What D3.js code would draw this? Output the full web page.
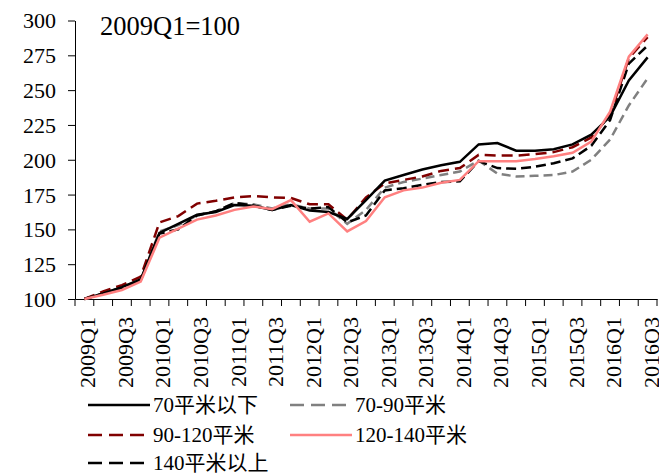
<!DOCTYPE html>
<html>
<head>
<meta charset="utf-8">
<script src="https://cdn.jsdelivr.net/npm/d3@7"></script>
<style>
  body { margin: 0; background: #fff; }
  svg { display: block; }
</style>
</head>
<body>
<div id="chart"></div>
<script>
// quarters 2009Q1 .. 2016Q3
const quarters = [];
for (let y = 2009; y <= 2016; y++) {
  for (let q = 1; q <= 4; q++) {
    if (y === 2016 && q === 4) break;
    quarters.push(y + 'Q' + q);
  }
}

const yTicks = [100, 125, 150, 175, 200, 225, 250, 275, 300];

const seriesNames = ['70平米以下', '70-90平米', '90-120平米', '120-140平米', '140平米以上'];

const below70 = [100, 104, 108.5, 114, 147.5, 154, 160.5, 162.5, 167.5, 167, 164, 167.5, 163.5, 162.5, 157.5, 171,
  185, 189, 193, 196, 198.5, 211, 212, 206.5, 206.5, 207.5, 211, 218, 231, 257, 273.5];
const s70to90 = [100, 104, 108.5, 114, 148.5, 153, 160, 163, 169, 168, 165, 168, 165, 165, 154, 164,
  180, 184, 186.5, 189, 191.5, 199.5, 190, 188, 188.5, 189, 191.5, 200, 214.5, 239, 258.5];
const s90to120 = [100, 105.5, 110, 116, 155, 159.5, 168.5, 170.5, 173, 174, 173, 172.5, 168, 168, 157, 173,
  183, 185.5, 188, 192, 194, 203.5, 203, 203, 204, 205.5, 209, 216, 232, 273, 288];
const s120to140 = [100, 103, 106.5, 112.5, 144, 150.5, 157, 160, 164, 166.5, 164.5, 171, 155.5, 161.5, 148.5, 156,
  173, 178, 180, 183.5, 185.5, 199, 199, 199, 200.5, 202.5, 205, 213, 234.5, 274, 290];
const above140 = [100, 104, 108, 113.5, 147, 150, 160, 163, 169, 167, 164, 167, 165, 166, 155, 160,
  178, 179.5, 182, 184, 184.5, 199, 194, 193.5, 195, 197.5, 201, 210, 228.5, 269, 282];

const seriesValues = [below70, s70to90, s90to120, s120to140, above140];
const colors = ['#000000', '#808080', '#800000', '#ff8080', '#000000'];
const dashes = [null, '9,5', '11,6', null, '10,5'];

const FONT = "'Liberation Serif', 'Times New Roman', Times, 'Noto Sans CJK SC', serif";

const width = 659, height = 475;
const margin = { top: 20.5, right: 2, bottom: 176, left: 75 };

const svg = d3.select('#chart').append('svg')
  .attr('width', width)
  .attr('height', height)
  .attr('font-family', FONT);

const x = d3.scaleBand()
  .domain(quarters)
  .range([margin.left, width - margin.right])
  .paddingInner(0).paddingOuter(0);

const y = d3.scaleLinear()
  .domain([100, 300])
  .range([height - margin.bottom, margin.top]);

// y axis
const yAxis = d3.axisLeft(y).tickValues(yTicks).tickSize(7).tickSizeOuter(0).tickPadding(12);
const gy = svg.append('g').attr('transform', `translate(${margin.left},0)`).call(yAxis)
  .attr('font-family', FONT);
gy.selectAll('text').style('font-size', '22px').attr('dy', '0.34em').attr('fill', '#000');
gy.selectAll('line, path').attr('stroke', '#000');

// x axis: labels on every other quarter, ticks between quarters
const labelQuarters = quarters.filter((d, i) => i % 2 === 0);
const xAxis = d3.axisBottom(x).tickValues(labelQuarters).tickSize(0).tickSizeOuter(0);
const gx = svg.append('g').attr('transform', `translate(0,${y(100)})`).call(xAxis)
  .attr('font-family', FONT);
gx.select('.domain').attr('stroke', '#000');
gx.selectAll('text')
  .style('font-size', '22px')
  .attr('fill', '#000')
  .attr('text-anchor', 'end')
  .attr('transform', 'rotate(-90)')
  .attr('x', -18)
  .attr('y', 0)
  .attr('dy', '0.5em');

const tickPos = quarters.map(d => x(d)).concat([x.range()[1]]);
gx.selectAll('.qtick')
  .data(tickPos)
  .enter().append('line')
  .attr('class', 'qtick')
  .attr('x1', d => d).attr('x2', d => d)
  .attr('y1', 0).attr('y2', 7)
  .attr('stroke', '#000');

// lines
const line = d3.line()
  .x((d, i) => x(quarters[i]) + x.bandwidth() / 2)
  .y(d => y(d));

const drawOrder = [1, 4, 2, 0, 3];
drawOrder.forEach(k => {
  svg.append('path')
    .datum(seriesValues[k])
    .attr('d', line)
    .attr('fill', 'none')
    .attr('stroke', colors[k])
    .attr('stroke-width', 2.5)
    .attr('stroke-dasharray', dashes[k]);
});

// title
svg.append('text')
  .attr('x', 100)
  .attr('y', 35)
  .style('font-size', '26.5px')
  .text('2009Q1=100');

// legend
const legendPos = [
  { lx: 88, ly: 405 },
  { lx: 290, ly: 405 },
  { lx: 88, ly: 435 },
  { lx: 290, ly: 435 },
  { lx: 88, ly: 463 }
];
const legend = svg.append('g');
seriesNames.forEach((name, k) => {
  const p = legendPos[k];
  legend.append('line')
    .attr('x1', p.lx).attr('x2', p.lx + 62)
    .attr('y1', p.ly).attr('y2', p.ly)
    .attr('stroke', colors[k])
    .attr('stroke-width', 2.5)
    .attr('stroke-dasharray', dashes[k] ? '14,7' : null);
  legend.append('text')
    .attr('x', p.lx + 65)
    .attr('y', p.ly)
    .attr('dy', '0.35em')
    .style('font-size', '21px')
    .text(name);
});
</script>
</body>
</html>
